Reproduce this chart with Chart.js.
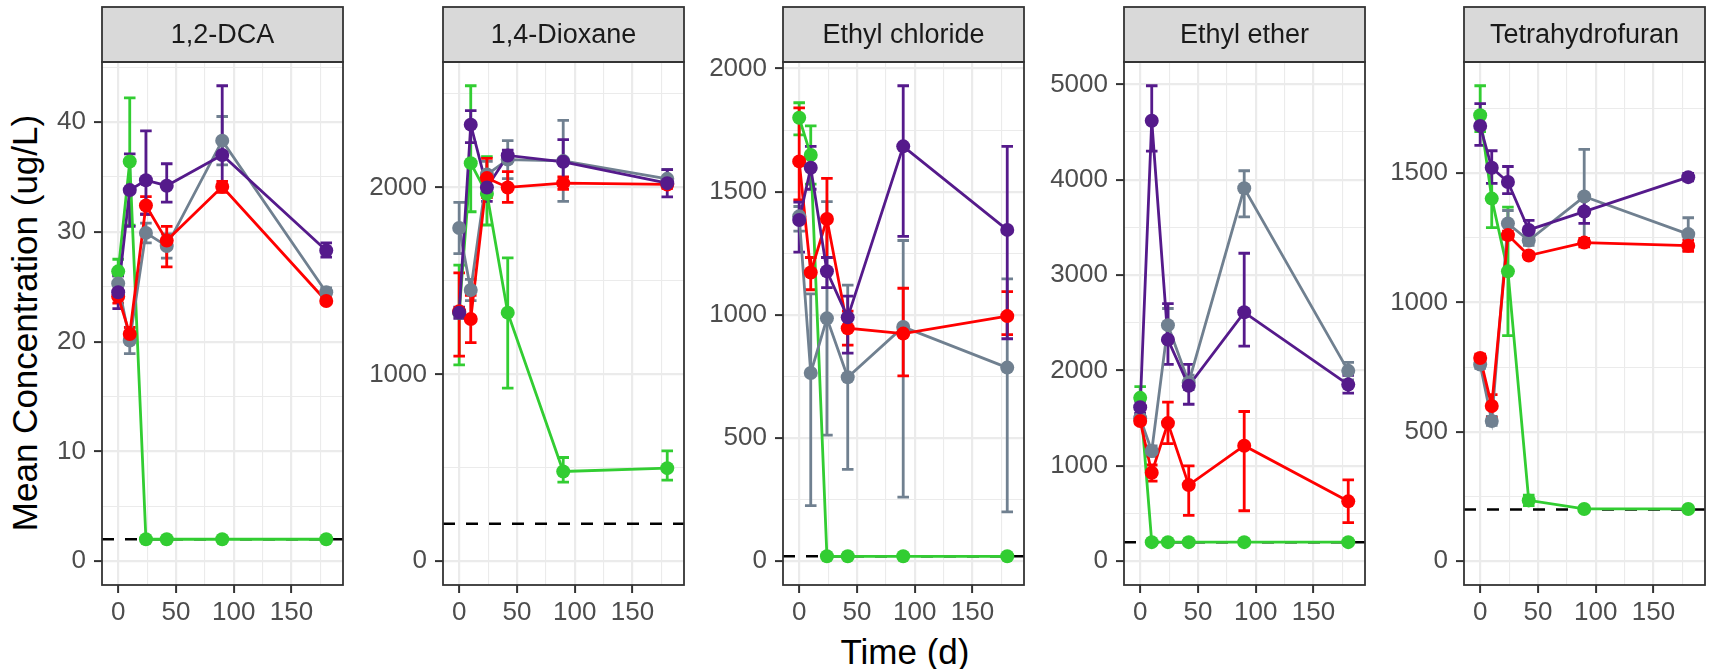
<!DOCTYPE html>
<html>
<head>
<meta charset="utf-8">
<script src="https://cdn.jsdelivr.net/npm/chart.js@4.4.0/dist/chart.umd.min.js"></script>
<style>
  body { margin: 0; background: #fff; width: 1713px; height: 669px; position: relative; overflow: hidden;
         font-family: "Liberation Sans", Arial, sans-serif; }
  canvas { position: absolute; top: 0; }
  .ytitle { position: absolute; left: 24px; top: 323px; font-size: 35px; line-height: 35px; white-space: nowrap;
            transform: translate(-50%, -50%) rotate(-90deg); color: #000; }
  .xtitle { position: absolute; left: 905px; top: 651px; font-size: 35px; line-height: 35px; white-space: nowrap;
            transform: translate(-50%, -50%); color: #000; }
</style>
</head>
<body>
<div class="ytitle">Mean Concentration (ug/L)</div>
<div class="xtitle">Time (d)</div>
<script>
// sampling days
const times = [0, 10, 24, 42, 90, 180];
const xTicks = [0, 50, 100, 150];

const compounds = ["1,2-DCA", "1,4-Dioxane", "Ethyl chloride", "Ethyl ether", "Tetrahydrofuran"];
const limits = [2, 200, 20, 200, 200]; // dashed reference line

// 1,2-DCA
const dcaTicks = [0, 10, 20, 30, 40];
const dcaPurple = [24.5, 33.8, 34.7, 34.2, 37.0, 28.3];
const dcaPurpleErr = [[23.0, 26.0], [30.5, 37.1], [31.6, 39.2], [32.7, 36.2], [34.3, 43.3], [27.7, 29.0]];
const dcaGray = [25.3, 20.1, 29.9, 28.7, 38.3, 24.5];
const dcaGrayErr = [[24.6, 26.0], [18.9, 21.3], [29.0, 30.8], [27.6, 29.8], [36.1, 40.5], [24.1, 24.9]];
const dcaRed = [24.1, 20.7, 32.4, 29.2, 34.1, 23.7];
const dcaRedErr = [[23.5, 24.7], [20.1, 21.3], [31.6, 33.2], [26.8, 30.5], [33.6, 34.6], [23.5, 23.9]];
const dcaGreen = [26.4, 36.4, 2.0, 2.0, 2.0, 2.0];
const dcaGreenErr = [[25.3, 27.5], [30.6, 42.2], [2, 2], [2, 2], [2, 2], [2, 2]];

// 1,4-Dioxane
const dioxTicks = [0, 1000, 2000];
const dioxPurple = [1330, 2336, 2000, 2171, 2137, 2023];
const dioxPurpleErr = [[1300, 1360], [2240, 2411], [1925, 2075], [2140, 2200], [2020, 2256], [1950, 2095]];
const dioxGray = [1783, 1451, 2069, 2149, 2142, 2046];
const dioxGrayErr = [[1646, 1920], [1394, 1508], [2000, 2140], [2047, 2251], [1925, 2359], [2000, 2096]];
const dioxRed = [1337, 1296, 2050, 2000, 2023, 2016];
const dioxRedErr = [[1097, 1543], [1170, 1422], [1945, 2155], [1920, 2085], [1990, 2056], [1995, 2040]];
const dioxGreen = [1330, 2130, 1966, 1330, 480, 498];
const dioxGreenErr = [[1051, 1584], [1870, 2544], [1799, 2165], [926, 1623], [423, 555], [434, 590]];

// Ethyl chloride
const ecTicks = [0, 500, 1000, 1500, 2000];
const ecPurple = [1385, 1597, 1177, 990, 1684, 1345];
const ecPurpleErr = [[1255, 1458], [1510, 1684], [1111, 1233], [845, 1076], [1319, 1930], [903, 1684]];
const ecGray = [1400, 764, 986, 747, 951, 786];
const ecGrayErr = [[1340, 1440], [226, 1085], [512, 1460], [373, 1121], [260, 1302], [200, 1146]];
const ecRed = [1623, 1172, 1389, 946, 924, 995];
const ecRedErr = [[1467, 1840], [1102, 1233], [1233, 1554], [877, 1015], [752, 1108], [920, 1094]];
const ecGreen = [1800, 1649, 20, 20, 20, 20];
const ecGreenErr = [[1731, 1861], [1531, 1767], [20, 20], [20, 20], [20, 20], [20, 20]];

// Ethyl ether
const eeTicks = [0, 1000, 2000, 3000, 4000, 5000];
const eePurple = [1614, 4619, 2323, 1839, 2610, 1852];
const eePurpleErr = [[1550, 1680], [4300, 4985], [2063, 2700], [1646, 2063], [2256, 3229], [1762, 1950]];
const eeGray = [1500, 1157, 2475, 1874, 3910, 1996];
const eeGrayErr = [[1450, 1550], [1100, 1210], [2300, 2650], [1800, 1950], [3610, 4094], [1900, 2085]];
const eeRed = [1471, 928, 1448, 798, 1211, 628];
const eeRedErr = [[1440, 1500], [839, 1009], [1233, 1668], [480, 1000], [529, 1570], [404, 852]];
const eeGreen = [1713, 200, 200, 200, 200, 200];
const eeGreenErr = [[1596, 1830], [200, 200], [200, 200], [200, 200], [200, 200], [200, 200]];

// Tetrahydrofuran
const thfTicks = [0, 500, 1000, 1500];
const thfPurple = [1682, 1520, 1465, 1280, 1351, 1484];
const thfPurpleErr = [[1607, 1768], [1460, 1586], [1420, 1525], [1245, 1317], [1305, 1397], [1470, 1498]];
const thfGray = [760, 542, 1305, 1239, 1409, 1264];
const thfGrayErr = [[745, 775], [525, 560], [1255, 1355], [1220, 1260], [1227, 1591], [1200, 1327]];
const thfRed = [785, 600, 1260, 1181, 1231, 1219];
const thfRedErr = [[770, 800], [556, 644], [1245, 1275], [1170, 1192], [1215, 1247], [1197, 1241]];
const thfGreen = [1723, 1401, 1120, 235, 202, 202];
const thfGreenErr = [[1660, 1837], [1289, 1512], [872, 1368], [215, 255], [200, 204], [200, 204]];

const colors = { purple: "#551A8B", red: "#FF0000", gray: "#708090", green: "#32CD32" };

const panels = [
  { ticks: dcaTicks, series: { purple: [dcaPurple, dcaPurpleErr], red: [dcaRed, dcaRedErr], gray: [dcaGray, dcaGrayErr], green: [dcaGreen, dcaGreenErr] } },
  { ticks: dioxTicks, series: { purple: [dioxPurple, dioxPurpleErr], red: [dioxRed, dioxRedErr], gray: [dioxGray, dioxGrayErr], green: [dioxGreen, dioxGreenErr] } },
  { ticks: ecTicks, series: { purple: [ecPurple, ecPurpleErr], red: [ecRed, ecRedErr], gray: [ecGray, ecGrayErr], green: [ecGreen, ecGreenErr] } },
  { ticks: eeTicks, series: { purple: [eePurple, eePurpleErr], red: [eeRed, eeRedErr], gray: [eeGray, eeGrayErr], green: [eeGreen, eeGreenErr] } },
  { ticks: thfTicks, series: { purple: [thfPurple, thfPurpleErr], red: [thfRed, thfRedErr], gray: [thfGray, thfGrayErr], green: [thfGreen, thfGreenErr] } }
];

// layout (px)
const H = 669, TOP = 62, BOTTOM = 585, STRIP_TOP = 7;
const AXIS_W = 100, PANEL_W = 244, FIRST_LEFT = 102, STEP = 340.5;
const CAP = 5; // half width of error bar caps, in days
const GRID = "#EBEBEB", FRAME = "#333333";

Chart.defaults.font.family = '"Liberation Sans", Arial, sans-serif';

// major + minor (half step) ticks inside the range
function withMinor(major, lo, hi) {
  const half = (major[1] - major[0]) / 2;
  const out = [];
  for (let v = major[0] - half; v <= major[major.length - 1] + half + 1e-9; v += half) {
    if (v >= lo && v <= hi) out.push({ value: v });
  }
  return out;
}

const panelDeco = {
  id: "panelDeco",
  beforeDatasetsDraw(chart, args, opts) {
    const { ctx, chartArea: a, scales: { x, y } } = chart;
    ctx.save();
    // dashed reference line
    const yl = y.getPixelForValue(opts.limit);
    ctx.strokeStyle = "#000";
    ctx.lineWidth = 2.5;
    ctx.setLineDash([12, 11]);
    ctx.beginPath();
    ctx.moveTo(a.left, yl);
    ctx.lineTo(a.right, yl);
    ctx.stroke();
    ctx.setLineDash([]);
    // error bars
    opts.bars.forEach(b => {
      ctx.strokeStyle = b.color;
      ctx.lineWidth = 2.8;
      b.err.forEach((e, i) => {
        const t = times[i];
        if (e[0] === e[1]) return;
        const px = x.getPixelForValue(t);
        const x0 = x.getPixelForValue(t - CAP), x1 = x.getPixelForValue(t + CAP);
        const y0 = y.getPixelForValue(e[0]), y1 = y.getPixelForValue(e[1]);
        ctx.beginPath();
        ctx.moveTo(px, y0); ctx.lineTo(px, y1);
        ctx.moveTo(x0, y0); ctx.lineTo(x1, y0);
        ctx.moveTo(x0, y1); ctx.lineTo(x1, y1);
        ctx.stroke();
      });
    });
    ctx.restore();
  },
  afterDraw(chart, args, opts) {
    const { ctx, chartArea: a } = chart;
    ctx.save();
    // strip
    ctx.fillStyle = "#D9D9D9";
    ctx.fillRect(a.left, STRIP_TOP, a.right - a.left, a.top - STRIP_TOP);
    ctx.strokeStyle = FRAME;
    ctx.lineWidth = 1.8;
    ctx.strokeRect(a.left, STRIP_TOP, a.right - a.left, a.top - STRIP_TOP);
    ctx.fillStyle = "#1A1A1A";
    ctx.font = '27px "Liberation Sans", Arial, sans-serif';
    ctx.textAlign = "center";
    ctx.textBaseline = "middle";
    ctx.fillText(opts.title, (a.left + a.right) / 2, (STRIP_TOP + a.top) / 2 + 1);
    // panel border
    ctx.strokeRect(a.left, a.top, a.right - a.left, a.bottom - a.top);
    ctx.restore();
  }
};

panels.forEach((p, k) => {
  const left = Math.round(FIRST_LEFT + k * STEP) - AXIS_W;
  const canvas = document.createElement("canvas");
  canvas.width = AXIS_W + PANEL_W + 4;
  canvas.height = H;
  canvas.style.left = left + "px";
  canvas.style.width = canvas.width + "px";
  canvas.style.height = H + "px";
  document.body.appendChild(canvas);

  const order = ["purple", "red", "gray", "green"];
  let top = 0;
  order.forEach(s => p.series[s][1].forEach(e => { top = Math.max(top, e[1]); }));
  const yMin = -0.05 * top, yMax = 1.05 * top;

  const pts = order.map(s => ({
    label: s,
    data: times.map((t, i) => ({ x: t, y: p.series[s][0][i] })),
    showLine: false,
    pointRadius: 7,
    pointBackgroundColor: colors[s],
    pointBorderWidth: 0
  }));
  const lines = order.map(s => ({
    label: s + " line",
    data: times.map((t, i) => ({ x: t, y: p.series[s][0][i] })),
    borderColor: colors[s],
    borderWidth: 2.8,
    pointRadius: 0,
    fill: false
  }));

  const majorY = p.ticks;
  const isMajorX = v => xTicks.includes(v);
  const isMajorY = v => majorY.includes(v);

  new Chart(canvas, {
    type: "line",
    data: { datasets: pts.concat(lines) },
    options: {
      responsive: false,
      devicePixelRatio: 1,
      animation: false,
      events: [],
      layout: { padding: { top: TOP, right: 4, left: 0, bottom: 0 } },
      plugins: {
        legend: { display: false },
        tooltip: { enabled: false },
        panelDeco: {
          title: compounds[k],
          limit: limits[k],
          bars: ["green", "gray", "red", "purple"].map(s => ({ color: colors[s], err: p.series[s][1] }))
        }
      },
      scales: {
        x: {
          type: "linear",
          min: -14,
          max: 194.5,
          afterBuildTicks: axis => { axis.ticks = withMinor(xTicks, -14, 194.5); },
          afterFit: axis => { axis.height = H - BOTTOM; },
          border: { display: false },
          grid: {
            color: GRID,
            lineWidth: c => (c.tick && isMajorX(c.tick.value) ? 2.2 : 1.1),
            tickColor: c => (c.tick && isMajorX(c.tick.value) ? FRAME : "rgba(0,0,0,0)"),
            tickWidth: 2,
            tickLength: 8
          },
          ticks: {
            autoSkip: false,
            maxRotation: 0,
            padding: 4,
            color: "#4D4D4D",
            font: { size: 26 },
            callback: v => (isMajorX(v) ? String(v) : "")
          }
        },
        y: {
          type: "linear",
          min: yMin,
          max: yMax,
          afterBuildTicks: axis => { axis.ticks = withMinor(majorY, yMin, yMax); },
          afterFit: axis => { axis.width = AXIS_W; },
          border: { display: false },
          grid: {
            color: GRID,
            lineWidth: c => (c.tick && isMajorY(c.tick.value) ? 2.2 : 1.1),
            tickColor: c => (c.tick && isMajorY(c.tick.value) ? FRAME : "rgba(0,0,0,0)"),
            tickWidth: 2,
            tickLength: 8
          },
          ticks: {
            autoSkip: false,
            padding: 8,
            color: "#4D4D4D",
            font: { size: 26 },
            callback: v => (isMajorY(v) ? String(v) : "")
          }
        }
      }
    },
    plugins: [panelDeco]
  });
});
</script>
</body>
</html>
